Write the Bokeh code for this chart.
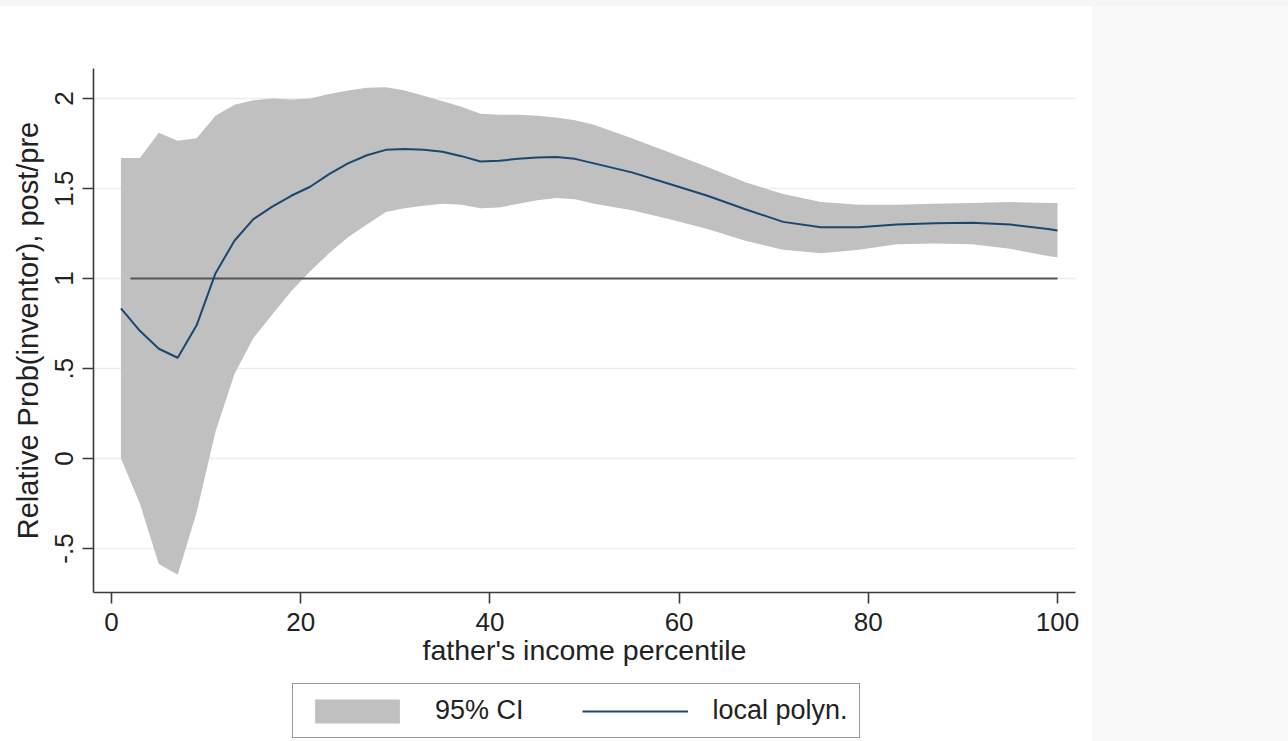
from bokeh.plotting import figure
from bokeh.models import (ColumnDataSource, FixedTicker, Legend, LegendItem,
                          Range1d, Div)
from bokeh.layouts import row, column
from bokeh.embed import file_html
from bokeh.resources import INLINE

# father's income percentile at which the local polynomial is evaluated
percentile = [1, 3, 5, 7, 9, 11, 13, 15, 17, 19, 21, 23, 25, 27, 29, 31, 33, 35,
              37, 39, 41, 43, 45, 47, 49, 51, 55, 59, 63, 67, 71, 75, 79, 83,
              87, 91, 95, 99, 100]

# local polynomial fit of relative Prob(inventor), post/pre
fit = [0.835, 0.71, 0.61, 0.56, 0.74, 1.03, 1.21, 1.33, 1.40, 1.46, 1.51, 1.58,
       1.64, 1.685, 1.715, 1.72, 1.715, 1.705, 1.68, 1.65, 1.655, 1.665, 1.672,
       1.675, 1.665, 1.64, 1.59, 1.525, 1.46, 1.385, 1.315, 1.285, 1.285, 1.30,
       1.307, 1.31, 1.30, 1.275, 1.267]

# 95% confidence interval bounds
ci_upper = [1.67, 1.67, 1.81, 1.765, 1.78, 1.905, 1.965, 1.99, 2.0, 1.995, 2.0,
            2.025, 2.045, 2.06, 2.063, 2.045, 2.015, 1.985, 1.955, 1.915, 1.91,
            1.91, 1.905, 1.895, 1.88, 1.855, 1.78, 1.70, 1.62, 1.535, 1.47,
            1.425, 1.41, 1.41, 1.415, 1.42, 1.425, 1.42, 1.42]
ci_lower = [0.0, -0.25, -0.585, -0.645, -0.30, 0.15, 0.47, 0.67, 0.80, 0.93,
            1.04, 1.14, 1.23, 1.30, 1.37, 1.39, 1.405, 1.415, 1.41, 1.39, 1.395,
            1.415, 1.435, 1.448, 1.44, 1.415, 1.38, 1.33, 1.275, 1.21, 1.16,
            1.14, 1.16, 1.19, 1.195, 1.19, 1.165, 1.125, 1.118]

# reference line at a ratio of one
ref_x = [2, 100]
ref_y = [1.0, 1.0]

x_ticks = [0, 20, 40, 60, 80, 100]
y_ticks = [-0.5, 0, 0.5, 1, 1.5, 2]
y_tick_labels = ["-.5", "0", ".5", "1", "1.5", "2"]

FONT = "Liberation Sans"
BAND_COLOR = "#c0c0c0"
FIT_COLOR = "#1a476f"

src = ColumnDataSource(dict(x=percentile, fit=fit, hi=ci_upper, lo=ci_lower))

# ---- main plot -------------------------------------------------------------
p = figure(width=1092, height=672,
           x_range=Range1d(-1.9, 101.9), y_range=Range1d(-0.744, 2.167),
           output_backend="svg", toolbar_location=None,
           min_border_left=93, min_border_right=17,
           min_border_top=62, min_border_bottom=86)
p.outline_line_color = None
p.background_fill_color = "white"
p.border_fill_color = "white"

p.varea(x="x", y1="lo", y2="hi", source=src, fill_color=BAND_COLOR)
p.line(ref_x, ref_y, line_color="#555555", line_width=2)
p.line(x="x", y="fit", source=src, line_color=FIT_COLOR, line_width=2)

p.xaxis.ticker = FixedTicker(ticks=x_ticks)
p.yaxis.ticker = FixedTicker(ticks=y_ticks)
p.yaxis.major_label_overrides = {t: s for t, s in zip(y_ticks, y_tick_labels)}
p.yaxis.major_label_orientation = "vertical"
for ax in (p.xaxis, p.yaxis):
    ax.axis_line_color = "#3a3a3a"
    ax.axis_line_width = 1.6
    ax.major_tick_line_color = "#3a3a3a"
    ax.major_tick_line_width = 1.6
    ax.major_tick_out = 11
    ax.major_tick_in = 0
    ax.minor_tick_line_color = None
    ax.major_label_text_font = FONT
    ax.major_label_text_font_size = "26px"
    ax.major_label_text_color = "#222222"
    ax.major_label_standoff = 9
    ax.axis_label_text_font = FONT
    ax.axis_label_text_font_style = "normal"
    ax.axis_label_text_color = "#222222"
p.xaxis.axis_label = "father's income percentile"
p.yaxis.axis_label = "Relative Prob(inventor), post/pre"
p.xaxis.axis_label_text_font_size = "28.5px"
p.yaxis.axis_label_text_font_size = "29px"
p.xaxis.axis_label_standoff = 0
p.yaxis.axis_label_standoff = 9

p.xgrid.visible = False
p.ygrid.ticker = FixedTicker(ticks=y_ticks)
p.ygrid.grid_line_color = "#e6eff2"
p.ygrid.grid_line_width = 1.5

# ---- legend strip under the plot -------------------------------------------
lg = figure(width=1092, height=63,
            x_range=Range1d(200, 300), y_range=Range1d(0, 1),
            output_backend="svg", toolbar_location=None, min_border=0)
lg.outline_line_color = None
lg.axis.visible = False
lg.grid.visible = False
lg.background_fill_color = "white"
lg.border_fill_color = "white"
band_key = lg.varea(x="x", y1="lo", y2="hi", source=src, fill_color=BAND_COLOR)
fit_key = lg.line(x="x", y="fit", source=src, line_color=FIT_COLOR, line_width=2)

legend = Legend(items=[LegendItem(label="95% CI", renderers=[band_key]),
                       LegendItem(label="local polyn.", renderers=[fit_key])],
                location=(199, 3), orientation="horizontal")
legend.background_fill_color = "white"
legend.background_fill_alpha = 1.0
legend.border_line_color = "#333333"
legend.border_line_width = 1.5
legend.glyph_width = 106
legend.glyph_height = 30
legend.label_standoff = 25
legend.spacing = 58
legend.padding = 11
legend.margin = 0
legend.label_text_font = FONT
legend.label_text_font_size = "27px"
legend.label_text_color = "#222222"
lg.add_layout(legend)

top_strip = Div(width=1288, height=6, margin=0,
                styles={"background-color": "#f6f6f6"})
side_panel = Div(width=196, height=735, margin=0,
                 styles={"background-color": "#f9f9f9"})

layout = column(top_strip,
                row(column(p, lg, spacing=0), side_panel, spacing=0),
                spacing=0)

open("out.html", "w").write(file_html(layout, INLINE))
